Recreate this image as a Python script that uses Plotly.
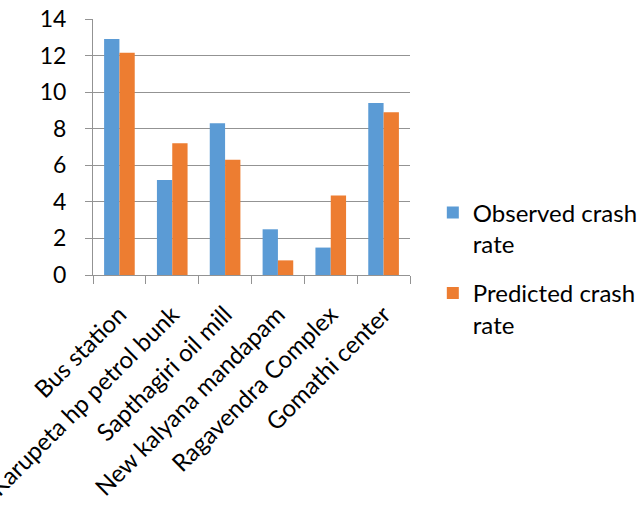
import plotly.graph_objects as go

# Crash rates per location
locations = [
    "Bus station",
    "Karupeta hp petrol bunk",
    "Sapthagiri oil mill",
    "New kalyana mandapam",
    "Ragavendra Complex",
    "Gomathi center",
]
observed = [12.9, 5.2, 8.3, 2.5, 1.5, 9.4]
predicted = [12.15, 7.2, 6.3, 0.8, 4.35, 8.9]
y_ticks = [0, 2, 4, 6, 8, 10, 12, 14]

FONT = "Lato, 'Open Sans', sans-serif"
GRID = "#939393"

fig = go.Figure()
fig.add_trace(go.Bar(
    x=locations, y=observed, name="Observed crash<br>rate",
    legendgroup="observed",
    marker=dict(color="#5B9BD5", line=dict(width=0)),
))
fig.add_trace(go.Bar(
    x=locations, y=predicted, name="Predicted crash<br>rate",
    legendgroup="predicted",
    marker=dict(color="#ED7D31", line=dict(width=0)),
))

fig.update_layout(
    width=643, height=506,
    margin=dict(l=93, r=233, t=19, b=231, autoexpand=False),
    paper_bgcolor="white", plot_bgcolor="white",
    font=dict(family=FONT, size=24, color="#000000"),
    barmode="group", bargap=0.42, bargroupgap=0,
    showlegend=True,
    legend=dict(
        x=1.072, xanchor="left", y=0.33, yanchor="top",
        font=dict(size=24), valign="top",
        tracegroupgap=15, itemwidth=30,
    ),
)
fig.update_yaxes(
    range=[0, 14], tickvals=y_ticks,
    showgrid=True, gridcolor=GRID, gridwidth=1,
    showline=True, linecolor=GRID, linewidth=1,
    ticks="outside", ticklen=7, tickcolor=GRID,
    ticklabelstandoff=14, zeroline=False,
    tickfont=dict(size=23),
)
fig.update_xaxes(
    showline=True, linecolor=GRID, linewidth=1,
    ticks="outside", ticklen=8, tickcolor=GRID, tickson="boundaries",
    tickangle=-45, tickfont=dict(size=24), ticklabelstandoff=15,
    automargin=False,
)

fig.write_html("out.html")
